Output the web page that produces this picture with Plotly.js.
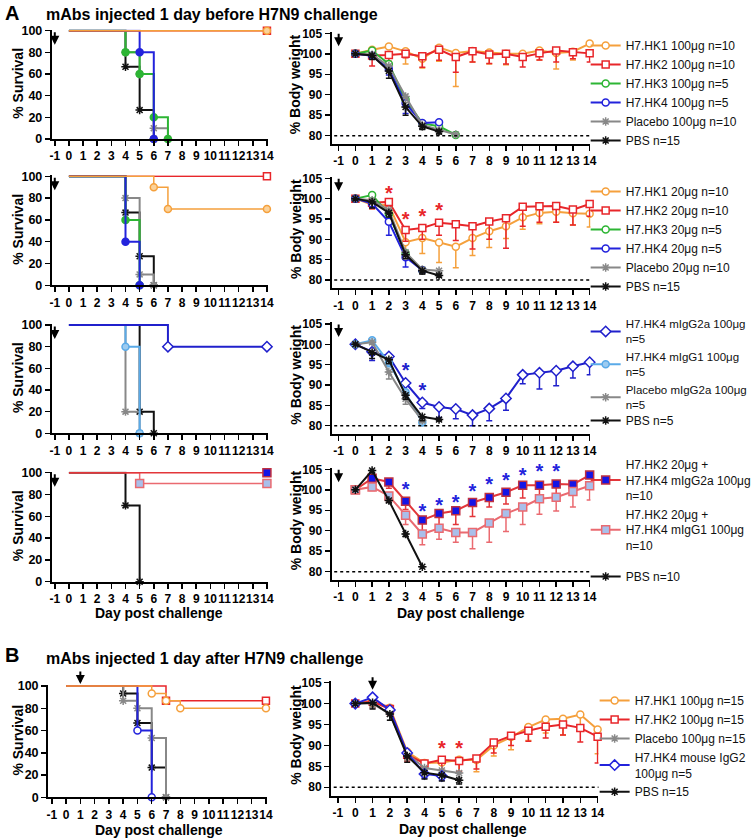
<!DOCTYPE html>
<html><head><meta charset="utf-8">
<script src="https://cdn.plot.ly/plotly-3.0.1.min.js"></script>
<style>body{margin:0;background:#fff}#chart{width:756px;height:840px}</style>
</head><body><div id="chart"></div>
<script>
// ---------------- DATA ----------------
const days = [0,1,2,3,4,5,6,7,8,9,10,11,12,13,14];
const xTicks = [-1,0,1,2,3,4,5,6,7,8,9,10,11,12,13,14];
const xTickText = ['-1','0','1','2','3','4','5','6','7','8','9','10','11','12','13','14'];
const survTicks = [0,20,40,60,80,100];
const weightTicks = [80,85,90,95,100,105];

// Row 1 (100 µg, before challenge) survival: times / percent
const s1_HK1_t=[0,14], s1_HK1_v=[100,100];
const s1_HK2_t=[0,14], s1_HK2_v=[100,100];
const s1_HK3_t=[0,4,5,6,7], s1_HK3_v=[100,80,60,20,0];
const s1_HK4_t=[0,5,6], s1_HK4_v=[100,80,0];
const s1_Pla_t=[0,4,5,6,7], s1_Pla_v=[100,80,60,10,0];
const s1_PBS_t=[0,4,5,6], s1_PBS_v=[100,66.7,26.7,0];
// Row 1 body weight (mean, lower SD)
const w1_HK1=[100,101.0,101.8,100.6,98.8,101.5,100.2,100.7,100.3,100.0,100.0,100.8,100.2,100.5,102.5];
const w1_HK1_sd=[0,0.8,0.5,3.1,2.3,3.3,8.2,2.7,2.8,2.7,1.0,2.3,3.9,2.0,0];
const w1_HK2=[100,99.6,99.7,100.0,99.4,101.0,99.2,100.6,99.8,100.0,99.2,100.1,100.8,100.4,100.1];
const w1_HK2_sd=[0,2.6,1.5,1.0,2.7,2.6,3.7,2.6,2.2,2.5,2.4,1.6,2.8,1.6,2.1];
const w1_HK3=[100,100.8,97.5,88.8,83.0,82.3,80.2];
const w1_HK3_sd=[0,0,1,1,0.5,0.5,0];
const w1_HK4=[100,99.5,96.3,87.9,83.1,83.3];
const w1_HK4_sd=[0,0.8,1.5,2.5,1,0];
const w1_Pla=[100,99.8,97.0,89.6,82.6,81.4,80.3];
const w1_Pla_sd=[0,0.5,1.5,1.5,1,0.6,0];
const w1_PBS=[100,99.6,95.8,87.0,82.3,81.0];
const w1_PBS_sd=[0,1,1.8,2.0,0.8,0.6];

// Row 2 (20 µg)
const s2_HK1_t=[0,6,7,14], s2_HK1_v=[100,90,70,70];
const s2_HK2_t=[0,14], s2_HK2_v=[100,100];
const s2_HK3_t=[0,4,5], s2_HK3_v=[100,60,0];
const s2_HK4_t=[0,4,5], s2_HK4_v=[100,40,0];
const s2_Pla_t=[0,4,5,6], s2_Pla_v=[100,80,10,0];
const s2_PBS_t=[0,4,5,6], s2_PBS_v=[100,66.7,26.7,0];
const w2_HK1=[100,98.5,98.4,89.3,90.3,89.2,88.2,90.3,92.0,93.2,95.4,96.5,96.8,96.4,96.3];
const w2_HK1_sd=[0,1,1.5,2.5,3.8,4.9,5.2,4.3,4.0,3.0,2.9,2.7,2.6,2.9,3.3];
const w2_HK2=[100,99.0,99.2,92.3,92.8,94.1,93.7,93.2,94.4,95.2,98.0,98.1,98.2,97.3,98.7];
const w2_HK2_sd=[0,1.5,1,2.8,2.8,3.1,4.0,5.6,4.4,7.4,4.8,3.9,4.0,3.8,3.0];
const w2_HK3=[100,100.9,96.2,86.6,82.4];
const w2_HK3_sd=[0,0.5,2,1.5,0.5];
const w2_HK4=[100,98.8,94.3,85.6,82.4];
const w2_HK4_sd=[0,1,3.3,2.4,0.5];
const w2_Pla=[100,99.6,97.2,86.8,82.6,82.3];
const w2_Pla_sd=[0,0.6,1,1.5,1.2,0.8];
const w2_PBS=[100,99.2,96.5,86.2,82.3,81.1];
const w2_PBS_sd=[0,1.5,1,1,0.8,0.4];
const sig2_days=[2,3,4,5], sig2_y=[101.0,94.5,95.3,96.6];

// Row 3 (isotypes)
const s3_G2a_t=[0,7,14], s3_G2a_v=[100,80,80];
const s3_G1_t=[0,4,5], s3_G1_v=[100,80,0];
const s3_Pla_t=[0,4,5], s3_Pla_v=[100,20,0];
const s3_PBS_t=[0,5,6], s3_PBS_v=[100,20,0];
const w3_G2a=[100,98.2,97.0,90.5,85.7,84.6,84.1,82.6,84.2,86.7,92.5,93.0,93.5,94.6,95.6];
const w3_G2a_sd=[0,2.2,0.5,2,1.5,2.6,2.4,2.6,3.0,2.9,2.2,4.0,3.7,2.9,3.1];
const w3_G1=[100,101.0,95.5,88.2,80.8];
const w3_G1_sd=[0,0.5,1,1,0.3];
const w3_Pla=[100,100.5,93.2,86.6,81.3];
const w3_Pla_sd=[0,0.5,1.7,1.3,0.5];
const w3_PBS=[100,98.0,96.2,87.5,82.2,81.5];
const w3_PBS_sd=[0,1.5,1,1,1,0.3];
const sig3_days=[3,4], sig3_y=[93.2,88.2];

// Row 4 (combinations)
const s4_G2a_t=[0,14], s4_G2a_v=[100,100];
const s4_G1_t=[0,5,14], s4_G1_v=[100,90,90];
const s4_PBS_t=[0,4,5], s4_PBS_v=[100,70,0];
const w4_G2a=[100,102.8,101.9,97.2,92.6,94.2,94.9,96.9,98.1,99.4,101.1,101.1,101.4,101.3,103.6];
const w4_G2a_sd=[0,1.5,1.5,2.0,2.6,3.0,3.4,3.4,2.3,2.9,3.1,2.6,2.6,2.3,0];
const w4_G1=[100,100.7,98.5,93.8,89.2,90.6,89.6,89.6,91.9,94.2,95.8,97.8,98.2,99.6,101.0];
const w4_G1_sd=[0,0.9,1.5,2.3,2.6,2.7,2.4,4.0,4.7,4.4,4.3,3.8,3.4,3.8,3.5];
const w4_PBS=[100,104.7,97.4,89.2,81.2];
const w4_PBS_sd=[0,0.5,0.5,0.6,0];
const sig4_days=[3,4,5,6,7,8,9,10,11,12], sig4_y=[99.6,94.3,95.8,96.6,99.2,100.8,101.9,103.2,104.0,104.0];

// Panel B (after challenge)
const sB_HK1_t=[0,6,7,8,14], sB_HK1_v=[100,93.3,86.7,80,80];
const sB_HK2_t=[0,7,14], sB_HK2_v=[100,86.7,86.7];
const sB_Pla_t=[0,4,5,6,7], sB_Pla_v=[100,86.7,80,53.3,0];
const sB_HK4_t=[0,5,6], sB_HK4_v=[100,60,0];
const sB_PBS_t=[0,4,5,6,7], sB_PBS_v=[100,93.3,66.7,26.7,0];
const wB_HK1=[100,100.8,99.0,88.5,85.8,85.9,86.6,86.5,90.0,92.0,94.4,96.2,96.4,97.4,93.8];
const wB_HK1_sd=[0,1.5,1,2,2.5,2.5,2.8,2.8,2.5,3,3.2,3.2,3.9,4.0,5.8];
const wB_HK2=[100,100.5,98.7,87.8,85.7,86.6,86.3,86.9,90.7,92.3,93.5,94.5,95.0,94.2,92.1];
const wB_HK2_sd=[0,1.5,1.5,1.5,2,2.5,2.5,2.5,2.5,2.3,2.5,2.7,2.5,3.4,6.3];
const wB_Pla=[100,100.0,97.5,88.0,84.6,84.0,83.4];
const wB_Pla_sd=[0,1,1.5,1.5,1,1,1];
const wB_HK4=[100,101.5,98.5,88.2,83.2,82.7];
const wB_HK4_sd=[0,0.5,1,1,1,1];
const wB_PBS=[100,100.2,97.5,87.5,83.5,82.9,81.7];
const wB_PBS_sd=[0,1.5,1.5,1.5,1.5,1.4,0.9];
const sigB_days=[5,6], sigB_y=[88.9,88.9];

const injDayA = -1, injDayB = 1;

// ---------------- STYLE ----------------
const W=756, H=840;
const FONT='Arial, "Liberation Sans", sans-serif';
const C={orange:'#F5A03C', red:'#E8262A', green:'#2DB534', blue:'#2323DC', gray:'#888888', black:'#111111',
  blue3:'#2020CC', lblue:'#5AAAE8', red4:'#E3363A', pink4:'#EA6A70', sqBlue:'#1414E6', sqLight:'#A9BFEA'};

function dom(pA,vA,pB,vB,r0,r1,isY){
  const s=(pB-pA)/(vB-vA);
  const p0=pA+(r0-vA)*s, p1=pA+(r1-vA)*s;
  return isY ? [1-p0/H, 1-p1/H] : [p0/W, p1/W];
}

const traces=[];
function surv(k,t,v,st){
  traces.push({x:t,y:v,xaxis:'x'+k,yaxis:'y'+k,mode:'lines+markers',showlegend:false,cliponaxis:false,
    line:{shape:'hv',color:st.line||st.color,width:st.lw||2},
    marker:{symbol:st.sym,size:st.size||7,color:st.fill||st.color,opacity:t.map((_,i)=>i===0?0:1),
      line:{color:st.mline||st.color,width:1.5}},hoverinfo:'skip'});
}
function wt(k,vals,sd,st,name,legend){
  traces.push({x:days.slice(0,vals.length),y:vals,xaxis:'x'+k,yaxis:'y'+k,mode:'lines+markers',
    name:name,legend:legend,showlegend:true,cliponaxis:false,
    line:{color:st.line||st.color,width:2},
    marker:{symbol:st.sym,size:st.size||7,color:st.fill||st.color,line:{color:st.mline||st.color,width:1.5}},
    error_y:{type:'data',symmetric:false,array:vals.map(()=>0),arrayminus:sd,color:st.line||st.color,thickness:1.5,width:3},
    hoverinfo:'skip'});
}
function sig(k,d,y,color){
  traces.push({x:d,y:y,xaxis:'x'+k,yaxis:'y'+k,mode:'text',text:d.map(()=>'*'),showlegend:false,cliponaxis:false,
    textposition:'middle center',textfont:{family:FONT,size:20,color:color,weight:'bold'},hoverinfo:'skip'});
}
const WHITE='#ffffff';
const stA={
  HK1:{color:C.orange,sym:'circle',fill:WHITE}, HK2:{color:C.red,sym:'square',fill:WHITE},
  HK3:{color:C.green,sym:'circle',fill:WHITE}, HK4:{color:C.blue,sym:'circle',fill:WHITE},
  Pla:{color:C.gray,sym:'asterisk-open'}, PBS:{color:C.black,sym:'asterisk-open'}
};
const stSurvA={
  HK1:{color:C.orange,sym:'circle',fill:'#FBD29A',lw:1.5}, HK2:{color:C.red,sym:'square',fill:WHITE,lw:1.5},
  HK3:{color:C.green,sym:'circle'}, HK4:{color:C.blue,sym:'circle'},
  Pla:{color:C.gray,sym:'asterisk-open'}, PBS:{color:C.black,sym:'asterisk-open'}
};

// Row 1
surv(1,s1_PBS_t,s1_PBS_v,stSurvA.PBS); surv(1,s1_Pla_t,s1_Pla_v,stSurvA.Pla);
surv(1,s1_HK3_t,s1_HK3_v,stSurvA.HK3); surv(1,s1_HK4_t,s1_HK4_v,stSurvA.HK4);
surv(1,s1_HK2_t,s1_HK2_v,stSurvA.HK2); surv(1,s1_HK1_t,s1_HK1_v,stSurvA.HK1);
wt(2,w1_HK1,w1_HK1_sd,stA.HK1,'H7.HK1 100μg n=10','legend');
wt(2,w1_HK2,w1_HK2_sd,stA.HK2,'H7.HK2 100μg n=10','legend');
wt(2,w1_HK3,w1_HK3_sd,stA.HK3,'H7.HK3 100μg n=5','legend');
wt(2,w1_HK4,w1_HK4_sd,stA.HK4,'H7.HK4 100μg n=5','legend');
wt(2,w1_Pla,w1_Pla_sd,stA.Pla,'Placebo 100μg n=10','legend');
wt(2,w1_PBS,w1_PBS_sd,stA.PBS,'PBS n=15','legend');

// Row 2
surv(3,s2_PBS_t,s2_PBS_v,stSurvA.PBS); surv(3,s2_Pla_t,s2_Pla_v,stSurvA.Pla);
surv(3,s2_HK3_t,s2_HK3_v,stSurvA.HK3); surv(3,s2_HK4_t,s2_HK4_v,stSurvA.HK4);
surv(3,s2_HK2_t,s2_HK2_v,stSurvA.HK2); surv(3,s2_HK1_t,s2_HK1_v,stSurvA.HK1);
wt(4,w2_HK1,w2_HK1_sd,stA.HK1,'H7.HK1 20μg n=10','legend2');
wt(4,w2_HK2,w2_HK2_sd,stA.HK2,'H7.HK2 20μg n=10','legend2');
wt(4,w2_HK3,w2_HK3_sd,stA.HK3,'H7.HK3 20μg n=5','legend2');
wt(4,w2_HK4,w2_HK4_sd,stA.HK4,'H7.HK4 20μg n=5','legend2');
wt(4,w2_Pla,w2_Pla_sd,stA.Pla,'Placebo 20μg n=10','legend2');
wt(4,w2_PBS,w2_PBS_sd,stA.PBS,'PBS n=15','legend2');
sig(4,sig2_days,sig2_y,C.red);

// Row 3
const st3={G2a:{color:C.blue3,sym:'diamond',fill:WHITE,size:8}, G1:{color:C.lblue,sym:'circle',fill:'#9CCBF0'},
  Pla:{color:C.gray,sym:'asterisk-open'}, PBS:{color:C.black,sym:'asterisk-open'}};
surv(5,s3_PBS_t,s3_PBS_v,st3.PBS); surv(5,s3_Pla_t,s3_Pla_v,st3.Pla);
surv(5,s3_G1_t,s3_G1_v,st3.G1); surv(5,s3_G2a_t,s3_G2a_v,st3.G2a);
wt(6,w3_G2a,w3_G2a_sd,st3.G2a,'H7.HK4 mIgG2a 100μg<br>n=5','legend3');
wt(6,w3_G1,w3_G1_sd,st3.G1,'H7.HK4 mIgG1 100μg<br>n=5','legend3');
wt(6,w3_Pla,w3_Pla_sd,st3.Pla,'Placebo mIgG2a 100μg<br>n=5','legend3');
wt(6,w3_PBS,w3_PBS_sd,st3.PBS,'PBS n=5','legend4');
sig(6,sig3_days,sig3_y,C.blue3);

// Row 4
const st4={G2a:{color:C.red4,sym:'square',fill:C.sqBlue,mline:'#C03040',size:8},
  G1:{color:C.pink4,sym:'square',fill:C.sqLight,mline:C.pink4,size:8},
  PBS:{color:C.black,sym:'asterisk-open'}};
surv(7,s4_PBS_t,s4_PBS_v,st4.PBS);
surv(7,s4_G1_t,s4_G1_v,Object.assign({},st4.G1,{lw:1.5}));
surv(7,s4_G2a_t,s4_G2a_v,Object.assign({},st4.G2a,{lw:1.5}));
wt(8,w4_G2a,w4_G2a_sd,st4.G2a,'H7.HK2 20μg +<br>H7.HK4 mIgG2a 100μg<br>n=10','legend5');
wt(8,w4_G1,w4_G1_sd,st4.G1,'H7.HK2 20μg +<br>H7.HK4 mIgG1 100μg<br>n=10','legend5');
wt(8,w4_PBS,w4_PBS_sd,st4.PBS,'PBS n=10','legend6');
sig(8,sig4_days,sig4_y,C.blue);

// Panel B
const stB={HK1:{color:C.orange,sym:'circle',fill:WHITE}, HK2:{color:C.red,sym:'square',fill:WHITE},
  Pla:{color:C.gray,sym:'asterisk-open'}, HK4:{color:C.blue,sym:'diamond',fill:WHITE,size:8},
  PBS:{color:C.black,sym:'asterisk-open'}};
surv(9,sB_PBS_t,sB_PBS_v,stB.PBS); surv(9,sB_Pla_t,sB_Pla_v,stB.Pla);
surv(9,sB_HK4_t,sB_HK4_v,{color:C.blue,sym:'circle',fill:WHITE});
surv(9,sB_HK2_t,sB_HK2_v,Object.assign({},stB.HK2,{lw:1.5}));
surv(9,sB_HK1_t,sB_HK1_v,Object.assign({},stB.HK1,{lw:1.5}));
wt(10,wB_HK1,wB_HK1_sd,stB.HK1,'H7.HK1 100μg n=15','legend7');
wt(10,wB_HK2,wB_HK2_sd,stB.HK2,'H7.HK2 100μg n=15','legend7');
wt(10,wB_Pla,wB_Pla_sd,stB.Pla,'Placebo 100μg n=15','legend7');
wt(10,wB_HK4,wB_HK4_sd,stB.HK4,'H7.HK4 mouse IgG2<br>100μg n=5','legend7');
wt(10,wB_PBS,wB_PBS_sd,stB.PBS,'PBS n=15','legend7');
sig(10,sigB_days,sigB_y,C.red);

// ---------------- LAYOUT ----------------
const layout={width:W,height:H,margin:{l:0,r:0,t:0,b:0},paper_bgcolor:'#fff',plot_bgcolor:'rgba(0,0,0,0)',
  font:{family:FONT,color:'#000'},showlegend:true,annotations:[],shapes:[]};

const survY=[[30.7,139],[176.3,285.3],[325,433.3],[472.7,581.7],[686,797.3]];
const wY=[[33.3,135.7],[178.3,280],[324,425.7],[469.3,571.7],[682.7,787.3]];
const survXpx=[[55,268],[55,268],[55,268],[55,268],[52,267]];
const wXpx=[[340,592],[340,592],[340,592],[340,592],[339.3,600]];
const survXr=[[-1.21,14.05],[-1.21,14.05],[-1.21,14.05],[-1.21,14.05],[-1.26,14.05]];
const wXr=[[-1.42,14.05],[-1.42,14.05],[-1.42,14.05],[-1.42,14.05],[-1.4,14.05]];

function axBase(){return {showline:true,linecolor:'#000',linewidth:2,ticks:'outside',ticklen:5,tickwidth:1.5,
  tickcolor:'#000',showgrid:false,zeroline:false,fixedrange:true,tickangle:0};}

function ann(px,py,text,size,extra){
  return Object.assign({xref:'paper',yref:'paper',x:px/W,y:1-py/H,xanchor:'center',yanchor:'middle',
    text:text,showarrow:false,font:{family:FONT,size:size,weight:'bold',color:'#000'}},extra||{});
}

for(let r=0;r<5;r++){
  const ks=2*r+1, kw=2*r+2;
  const xs=axBase(), ys=axBase(), xw=axBase(), yw=axBase();
  xs.range=survXr[r]; xs.domain=dom(survXpx[r][0],-1,survXpx[r][1],14,survXr[r][0],survXr[r][1],false);
  xs.tickvals=xTicks; xs.ticktext=xTickText; xs.anchor='y'+ks; xs.tickfont={family:FONT,size:12,weight:'bold'};
  ys.range=[0,101]; ys.domain=dom(survY[r][0],100,survY[r][1],0,0,101,true);
  ys.tickvals=survTicks; ys.anchor='x'+ks; ys.tickfont={family:FONT,size:12.5,weight:'bold'};
  xw.range=wXr[r]; xw.domain=dom(wXpx[r][0],-1,wXpx[r][1],14,wXr[r][0],wXr[r][1],false);
  xw.tickvals=xTicks; xw.ticktext=xTickText; xw.anchor='y'+kw; xw.tickfont={family:FONT,size:12,weight:'bold'};
  yw.range=[78,105.4]; yw.domain=dom(wY[r][0],105,wY[r][1],80,78,105.4,true);
  yw.tickvals=weightTicks; yw.anchor='x'+kw; yw.tickfont={family:FONT,size:12,weight:'bold'};
  layout['xaxis'+(ks===1?'':ks)]=xs; layout['yaxis'+(ks===1?'':ks)]=ys;
  layout['xaxis'+kw]=xw; layout['yaxis'+kw]=yw;

  layout.shapes.push({type:'line',xref:'x'+kw+' domain',x0:0.01,x1:1,yref:'y'+kw,y0:80,y1:80,
    line:{color:'#000',width:1.5,dash:'dot'}});
  layout.annotations.push(ann(18,(survY[r][0]+survY[r][1])/2-2,'% Survival',14,{textangle:-90}));
  layout.annotations.push(ann(297,(wY[r][0]+wY[r][1])/2,'% Body weight',14,{textangle:-90}));
  const inj = r<4 ? injDayA : injDayB;
  const hs = r<4 ? survY[r][0]+14 : survY[r][0]-2;
  const hw = r<4 ? wY[r][0]+13 : wY[r][0]+7;
  [[ks,hs],[kw,hw]].forEach(([k,hp])=>{
    layout.annotations.push({xref:'x'+k,yref:'paper',x:inj,y:1-hp/H,showarrow:true,ax:0,ay:-14,
      arrowhead:2,arrowsize:0.9,arrowwidth:2,arrowcolor:'#000',text:'',standoff:0});
  });
}
[[160,613],[463,613],[160,830],[465,829]].forEach(([px,py])=>{
  layout.annotations.push(ann(px,py,'Day post challenge',14));
});
layout.annotations.push(ann(3,13,'A',20,{xanchor:'left'}));
layout.annotations.push(ann(44,14,'mAbs injected 1 day before H7N9 challenge',16,{xanchor:'left'}));
layout.annotations.push(ann(3,655,'B',20,{xanchor:'left'}));
layout.annotations.push(ann(44,658,'mAbs injected 1 day after H7N9 challenge',16,{xanchor:'left'}));

function leg(xpx,toppx,size){return {x:xpx/W,y:1-toppx/H,xanchor:'left',yanchor:'top',bgcolor:'rgba(0,0,0,0)',
  borderwidth:0,itemwidth:30,tracegroupgap:0,font:{family:FONT,size:size||12,color:'#111'},itemclick:false,itemdoubleclick:false};}
layout.legend=leg(588,31);
layout.legend2=leg(588,177);
layout.legend3=leg(588,310,11.5);
layout.legend4=leg(588,406);
layout.legend5=leg(588,450);
layout.legend6=leg(588,562);
layout.legend7=leg(597,686,12);

Plotly.newPlot('chart',traces,layout,{staticPlot:true});
</script>
</body></html>
